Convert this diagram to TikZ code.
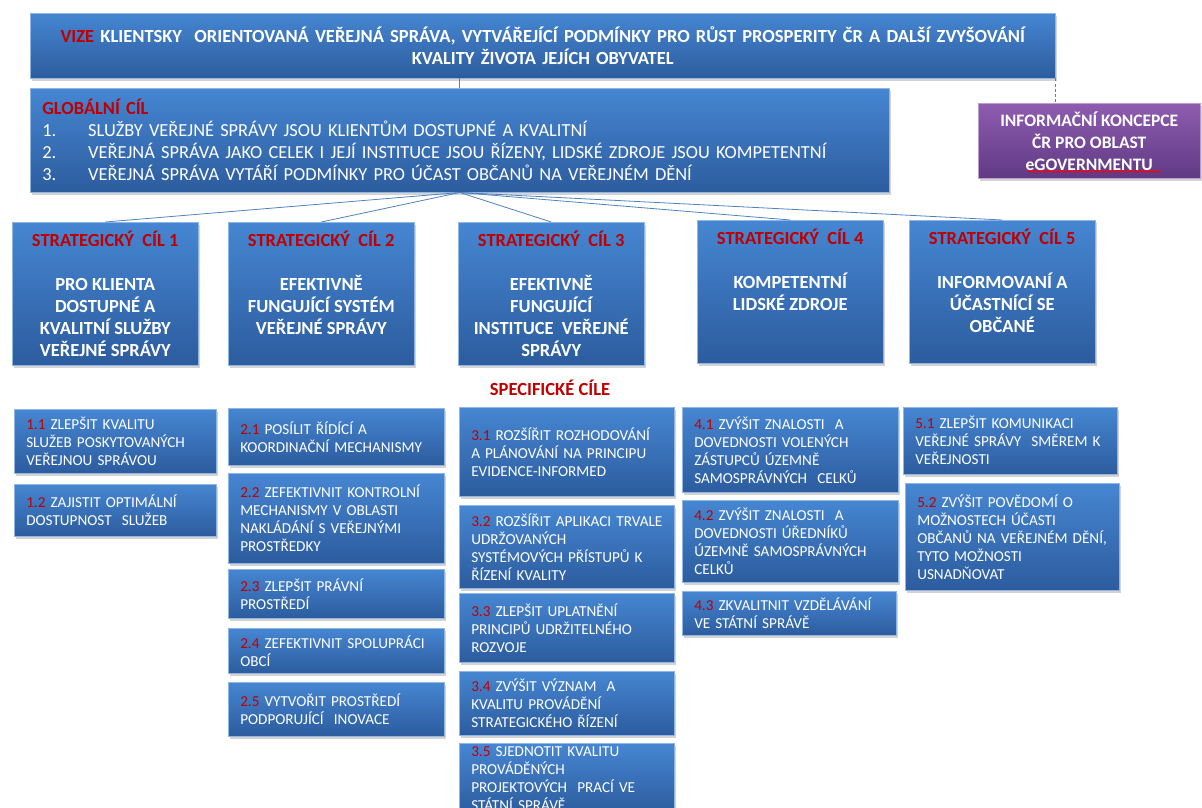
\documentclass[tikz,border=0pt]{standalone}
\usepackage{fontspec}
\setmainfont{Carlito}
\usetikzlibrary{positioning,shadows,decorations.pathmorphing}

\definecolor{boxtop}{RGB}{70,134,210}
\definecolor{boxbot}{RGB}{44,92,158}
\definecolor{purtop}{RGB}{142,92,176}
\definecolor{purbot}{RGB}{96,58,132}
\definecolor{cilred}{RGB}{192,0,0}
\definecolor{linkblue}{RGB}{79,129,189}

\newcommand{\cislo}[1]{\textcolor{cilred}{#1}}

\tikzset{
  bluebox/.style={anchor=north west, top color=boxtop, bottom color=boxbot,
    draw=boxtop!60!white, line width=0.5pt, text=white, inner ysep=1pt,
    drop shadow={shadow xshift=2pt, shadow yshift=-3pt, opacity=0.35}},
  purbox/.style={bluebox, top color=purtop, bottom color=purbot, draw=purtop!60!white},
  specbox/.style={bluebox, align=left, inner xsep=12pt, font=\fontsize{15.2}{18}\selectfont},
  stratbox/.style={bluebox, minimum width=186pt, minimum height=143pt},
  strattext/.style={text=white, align=center, inner sep=0pt, font=\bfseries\fontsize{18.5}{22}\selectfont},
  link/.style={draw=linkblue, line width=0.8pt}
}

\begin{document}
\begin{tikzpicture}[x=1pt,y=-1pt]

\useasboundingbox (0,0) rectangle (1202,808);

% vize, globalni cil, koncepce
\node[bluebox, minimum width=1025pt, minimum height=65pt, text width=1001pt, align=center,
  font=\bfseries\fontsize{18.5}{22}\selectfont] (vize) at (30,13)
  {\cislo{VIZE} KLIENTSKY\ \ ORIENTOVANÁ VEŘEJNÁ SPRÁVA, VYTVÁŘEJÍCÍ PODMÍNKY PRO RŮST PROSPERITY ČR A DALŠÍ ZVYŠOVÁNÍ\\KVALITY ŽIVOTA JEJÍCH OBYVATEL};

\node[bluebox, minimum width=859pt, minimum height=104pt, text width=835pt, align=left, inner xsep=12pt,
  font=\fontsize{18.4}{22}\selectfont] (glob) at (30,88)
  {\cislo{\bfseries GLOBÁLNÍ CÍL}\\
   \makebox[46pt][l]{1.}SLUŽBY VEŘEJNÉ SPRÁVY JSOU KLIENTŮM DOSTUPNÉ A KVALITNÍ\\
   \makebox[46pt][l]{2.}VEŘEJNÁ SPRÁVA JAKO CELEK I JEJÍ INSTITUCE JSOU ŘÍZENY, LIDSKÉ ZDROJE JSOU KOMPETENTNÍ\\
   \makebox[46pt][l]{3.}VEŘEJNÁ SPRÁVA VYTÁŘÍ PODMÍNKY PRO ÚČAST OBČANŮ NA VEŘEJNÉM DĚNÍ};

\node[purbox, minimum width=222pt, minimum height=75pt, align=center,
  font=\bfseries\fontsize{17.5}{22}\selectfont] (info) at (978,103)
  {INFORMAČNÍ KONCEPCE\\ČR PRO OBLAST\\eGOVERNMENTU};
\draw[red, line width=0.7pt, decorate, decoration={snake, amplitude=0.8pt, segment length=2.5pt}]
  ([xshift=-62pt,yshift=7pt]info.south) -- ([xshift=72pt,yshift=7pt]info.south);

\draw[link] (glob.north) -- (glob.north |- vize.south);
\draw[link, dash pattern=on 3pt off 2pt] (vize.south east) -- (vize.south east |- info.north);

% strategicke cile
\node[stratbox] (s1) at (12,222) {};
\node[stratbox] (s2) at (228,222) {};
\node[stratbox] (s3) at (458,222) {};
\node[stratbox] (s4) at (697,220) {};
\node[stratbox] (s5) at (909,220) {};

\node[strattext, below=9pt of s1.north] (s1t) {\cislo{STRATEGICKÝ\ \ CÍL 1}\\[22pt]PRO KLIENTA\\DOSTUPNÉ A\\KVALITNÍ SLUŽBY\\VEŘEJNÉ SPRÁVY};
\node[strattext, below=9pt of s2.north] (s2t) {\cislo{STRATEGICKÝ\ \ CÍL 2}\\[22pt]EFEKTIVNĚ\\FUNGUJÍCÍ SYSTÉM\\VEŘEJNÉ SPRÁVY};
\node[strattext, below=9pt of s3.north] (s3t) {\cislo{STRATEGICKÝ\ \ CÍL 3}\\[22pt]EFEKTIVNĚ\\FUNGUJÍCÍ\\INSTITUCE\ \ VEŘEJNÉ\\SPRÁVY};
\node[strattext, below=9pt of s4.north] (s4t) {\cislo{STRATEGICKÝ\ \ CÍL 4}\\[22pt]KOMPETENTNÍ\\LIDSKÉ ZDROJE};
\node[strattext, below=9pt of s5.north] (s5t) {\cislo{STRATEGICKÝ\ \ CÍL 5}\\[22pt]INFORMOVANÍ A\\ÚČASTNÍCÍ SE\\OBČANÉ};

\foreach \i in {1,...,5}
    \draw[link] (glob.south) -- (s\i.north);

\node[text=cilred, font=\bfseries\fontsize{18.5}{22}\selectfont] (spec) at (550,388) {SPECIFICKÉ CÍLE};

% specificke cile
\node[specbox, text width=178pt, minimum height=64pt] (s11) at (14,409) {\cislo{1.1} ZLEPŠIT KVALITU\\SLUŽEB POSKYTOVANÝCH\\VEŘEJNOU SPRÁVOU};
\node[specbox, text width=178pt, minimum height=52pt] (s12) at (14,484) {\cislo{1.2} ZAJISTIT OPTIMÁLNÍ\\DOSTUPNOST\ \ SLUŽEB};

\node[specbox, text width=192pt, minimum height=57pt] (s21) at (228,408) {\cislo{2.1} POSÍLIT ŘÍDÍCÍ A\\KOORDINAČNÍ MECHANISMY};
\node[specbox, text width=192pt, minimum height=90pt] (s22) at (228,473) {\cislo{2.2} ZEFEKTIVNIT KONTROLNÍ\\MECHANISMY V OBLASTI\\NAKLÁDÁNÍ S VEŘEJNÝMI\\PROSTŘEDKY};
\node[specbox, text width=192pt, minimum height=49pt] (s23) at (228,569) {\cislo{2.3} ZLEPŠIT PRÁVNÍ\\PROSTŘEDÍ};
\node[specbox, text width=192pt, minimum height=45pt] (s24) at (228,628) {\cislo{2.4} ZEFEKTIVNIT SPOLUPRÁCI\\OBCÍ};
\node[specbox, text width=192pt, minimum height=54pt] (s25) at (228,682) {\cislo{2.5} VYTVOŘIT PROSTŘEDÍ\\PODPORUJÍCÍ\ \ INOVACE};

\node[specbox, text width=191pt, minimum height=89pt] (s31) at (459,407) {\cislo{3.1} ROZŠÍŘIT ROZHODOVÁNÍ\\A PLÁNOVÁNÍ NA PRINCIPU\\EVIDENCE-INFORMED};
\node[specbox, text width=191pt, minimum height=83pt] (s32) at (459,505) {\mbox{\cislo{3.2} ROZŠÍŘIT APLIKACI TRVALE}\\UDRŽOVANÝCH\\SYSTÉMOVÝCH PŘÍSTUPŮ K\\ŘÍZENÍ KVALITY};
\node[specbox, text width=191pt, minimum height=69pt] (s33) at (459,593) {\cislo{3.3} ZLEPŠIT UPLATNĚNÍ\\PRINCIPŮ UDRŽITELNÉHO\\ROZVOJE};
\node[specbox, text width=191pt, minimum height=64pt] (s34) at (459,671) {\cislo{3.4} ZVÝŠIT VÝZNAM\ \ A\\KVALITU PROVÁDĚNÍ\\STRATEGICKÉHO ŘÍZENÍ};
\node[specbox, text width=191pt, minimum height=70pt] (s35) at (459,743) {\cislo{3.5} SJEDNOTIT KVALITU\\PROVÁDĚNÝCH\\PROJEKTOVÝCH\ \ PRACÍ VE\\STÁTNÍ SPRÁVĚ};

\node[specbox, text width=192pt, minimum height=85pt] (s41) at (682,407) {\cislo{4.1} ZVÝŠIT ZNALOSTI\ \ A\\DOVEDNOSTI VOLENÝCH\\ZÁSTUPCŮ ÚZEMNĚ\\SAMOSPRÁVNÝCH\ \ CELKŮ};
\node[specbox, text width=192pt, minimum height=82pt] (s42) at (682,500) {\cislo{4.2} ZVÝŠIT ZNALOSTI\ \ A\\DOVEDNOSTI ÚŘEDNÍKŮ\\ÚZEMNĚ SAMOSPRÁVNÝCH\\CELKŮ};
\node[specbox, text width=190pt, minimum height=44pt] (s43) at (682,591) {\cislo{4.3} ZKVALITNIT VZDĚLÁVÁNÍ\\VE STÁTNÍ SPRÁVĚ};

\node[specbox, text width=190pt, minimum height=67pt] (s51) at (903,407) {\cislo{5.1} ZLEPŠIT KOMUNIKACI\\VEŘEJNÉ SPRÁVY\ \ SMĚREM K\\VEŘEJNOSTI};
\node[specbox, text width=190pt, minimum height=107pt] (s52) at (905,483) {\cislo{5.2} ZVÝŠIT POVĚDOMÍ O\\MOŽNOSTECH ÚČASTI\\OBČANŮ NA VEŘEJNÉM DĚNÍ,\\TYTO MOŽNOSTI\\USNADŇOVAT};

\end{tikzpicture}
\end{document}
